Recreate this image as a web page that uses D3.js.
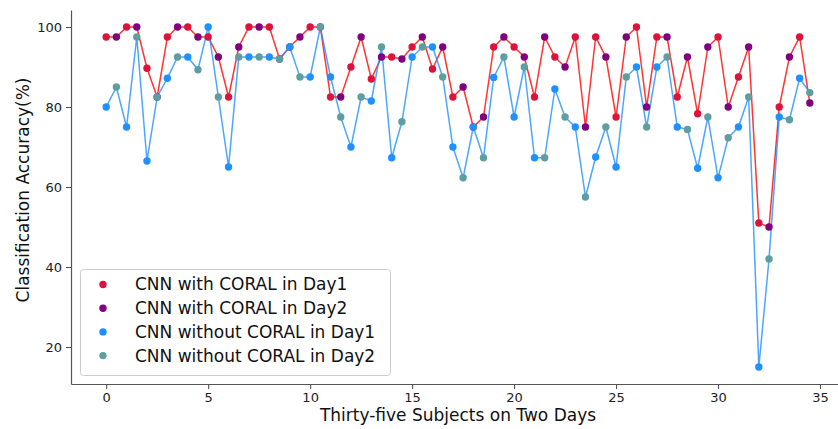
<!DOCTYPE html>
<html>
<head>
<meta charset="utf-8">
<script src="https://cdn.jsdelivr.net/npm/d3@7"></script>
<style>
    body { margin: 0; background: #fff; }
    svg { display: block; font-family: "DejaVu Sans", sans-serif; }
</style>
</head>
<body>
<div id="chart"></div>
<script>
(function () {
    'use strict';

    // accuracy per half-step: even index = Day1, odd index = Day2
    var withCoral = [97.5, 97.5, 100, 100, 89.7, 82.5, 97.5, 100, 100, 97.5,
        97.5, 92.5, 82.5, 95, 100, 100, 100, 92, 95, 97.5,
        100, 100, 82.5, 82.5, 90, 97.5, 87, 92.5, 92.5, 92,
        95, 97.5, 89.5, 95, 82.5, 85, 75, 77.5, 95, 97.5,
        95, 92.5, 82.5, 97.5, 92.5, 90, 97.5, 75, 97.5, 92.5,
        77.5, 97.5, 100, 80, 97.5, 97.5, 82.5, 92.5, 78.3, 95,
        97.5, 80, 87.5, 95, 51, 50, 80, 92.5, 97.5, 81];
    var withoutCoral = [80, 85, 75, 97.5, 66.5, 82.5, 87.2, 92.5, 92.5, 89.3,
        100, 82.5, 65, 92.5, 92.5, 92.5, 92.5, 92, 95, 87.5,
        87.5, 100, 87.5, 77.5, 70, 82.5, 81.5, 95, 67.3, 76.3,
        92.5, 95, 95, 87.5, 70, 62.3, 75, 67.3, 87.4, 92.5,
        77.5, 90, 67.3, 67.3, 84.5, 77.5, 75, 57.5, 67.5, 75,
        65, 87.5, 90, 75, 90, 92.5, 75, 74.4, 64.7, 77.5,
        62.3, 72.3, 75, 82.5, 15, 42, 77.5, 76.8, 87.2, 83.6];
    var xTicks = [0, 5, 10, 15, 20, 25, 30, 35];
    var yTicks = [20, 40, 60, 80, 100];
    var labels = ['CNN with CORAL in Day1', 'CNN with CORAL in Day2',
        'CNN without CORAL in Day1', 'CNN without CORAL in Day2'];

    var width = 838, height = 429;
    var colors = ['#dc143c', '#800080', '#1e90ff', '#5f9ea0'];

    var svg = d3.select('#chart').append('svg')
        .attr('width', width)
        .attr('height', height);

    var xs = withCoral.map(function (d, i) { return i * 0.5; });

    var x = d3.scaleLinear().domain([-1.725, 36.225]).range([71, 845]);
    var y = d3.scaleLinear().domain([10.75, 104.25]).range([384, 10]);

    // axes
    var xAxis = svg.append('g')
        .attr('transform', 'translate(0,384)')
        .call(d3.axisBottom(x).tickValues(xTicks).tickSize(5).tickSizeOuter(0).tickPadding(4));
    var yAxis = svg.append('g')
        .attr('transform', 'translate(71,0)')
        .call(d3.axisLeft(y).tickValues(yTicks).tickSize(5).tickSizeOuter(0).tickPadding(4));
    [xAxis, yAxis].forEach(function (a) {
        a.select('.domain').attr('stroke', '#555').attr('stroke-width', 1.2);
        a.selectAll('.tick line').attr('stroke', '#555').attr('stroke-width', 1.1);
        a.selectAll('.tick text').attr('fill', '#222')
            .style('font-size', '13px').style('font-family', '"DejaVu Sans", sans-serif');
    });

    svg.append('text')
        .attr('x', 458).attr('y', 421)
        .attr('text-anchor', 'middle')
        .attr('fill', '#111')
        .style('font-size', '17px')
        .text('Thirty-five Subjects on Two Days');

    svg.append('text')
        .attr('transform', 'translate(29,190) rotate(-90)')
        .attr('text-anchor', 'middle')
        .attr('fill', '#111')
        .style('font-size', '17px')
        .text('Classification Accuracy(%)');

    var plot = svg.append('g');

    var line = d3.line()
        .x(function (d) { return x(d[0]); })
        .y(function (d) { return y(d[1]); });

    plot.append('path')
        .datum(d3.zip(xs, withCoral))
        .attr('fill', 'none')
        .attr('stroke', '#ff0000')
        .attr('stroke-opacity', 0.8)
        .attr('stroke-width', 1.5)
        .attr('d', line);

    plot.append('path')
        .datum(d3.zip(xs, withoutCoral))
        .attr('fill', 'none')
        .attr('stroke', '#1e90ff')
        .attr('stroke-opacity', 0.8)
        .attr('stroke-width', 1.5)
        .attr('d', line);

    // scatter: one group per legend entry
    var series = [
        { vals: withCoral, day: 0 },
        { vals: withCoral, day: 1 },
        { vals: withoutCoral, day: 0 },
        { vals: withoutCoral, day: 1 }
    ];
    series.forEach(function (s, k) {
        plot.append('g')
            .selectAll('circle')
            .data(d3.zip(xs, s.vals).filter(function (d, i) { return i % 2 === s.day; }))
            .enter().append('circle')
            .attr('cx', function (d) { return x(d[0]); })
            .attr('cy', function (d) { return y(d[1]); })
            .attr('r', 3.7)
            .attr('fill', colors[k]);
    });

    // legend
    var legend = svg.append('g');
    legend.append('rect')
        .attr('x', 80.5).attr('y', 269.5)
        .attr('width', 310).attr('height', 106)
        .attr('rx', 3)
        .attr('fill', '#fff').attr('fill-opacity', 0.8)
        .attr('stroke', '#ccc');
    var item = legend.selectAll('g.item')
        .data(labels)
        .enter().append('g')
        .attr('class', 'item')
        .attr('transform', function (d, i) { return 'translate(0,' + (284.5 + i * 23.7) + ')'; });
    item.append('circle')
        .attr('cx', 103).attr('cy', 0).attr('r', 3.7)
        .attr('fill', function (d, i) { return colors[i]; });
    item.append('text')
        .attr('x', 135).attr('y', 0)
        .attr('dy', '0.35em')
        .attr('fill', '#111')
        .style('font-size', '17px')
        .text(function (d) { return d; });
})();
</script>
</body>
</html>
